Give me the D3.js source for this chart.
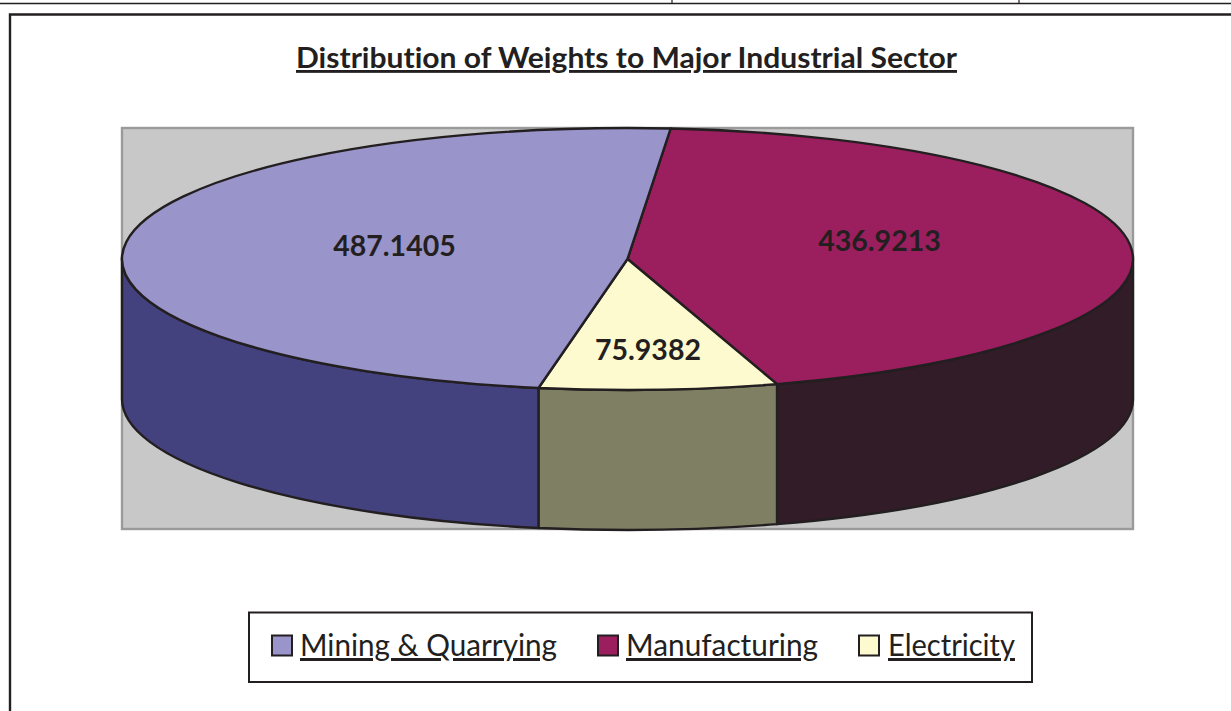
<!DOCTYPE html>
<html><head><meta charset="utf-8">
<script src="https://cdn.jsdelivr.net/npm/d3@7/dist/d3.min.js"></script>
<style>html,body{margin:0;padding:0;background:#fff;overflow:hidden}svg{display:block}
text{font-family:Lato,"Open Sans",sans-serif;fill:#231f20;font-variant-ligatures:none;font-feature-settings:"liga" 0,"kern" 1}
.u{text-decoration:underline;text-decoration-thickness:3px;text-decoration-skip-ink:none;text-underline-offset:3px}</style>
</head><body><svg id="c" width="1231" height="711"></svg>
<script>
const categories = ["Manufacturing","Electricity","Mining & Quarrying"];
const values = [436.9213,75.9382,487.1405];
const valueLabels = ["436.9213","75.9382","487.1405"];
const legendOrder = ["Mining & Quarrying","Manufacturing","Electricity"];
const topColors = ["#9b1f5e","#fefad0","#9994c9"];
const sideColors = ["#311c28","#7f7f63","#44417f"];
const titleText = "Distribution of Weights to Major Industrial Sector";

const ink = "#231f20";
const svg = d3.select("#c");
const cx = 627.5, cy = 259, rx = 505.5, ry = 131, depth = 140;
const start = 4.9 * Math.PI / 180;
const pie = d3.pie().sort(null).startAngle(start).endAngle(start + 2 * Math.PI);
const arcs = pie(values);
// slight perspective warp of the tilted disc: the front of the pie turns a little further
const warp = a => a + (0.62 * Math.PI / 180) * (1 - Math.cos(a)) / 2;
const px = a => cx + rx * Math.sin(warp(a));
const py = (a, d = 0) => cy - ry * Math.cos(warp(a)) + d;

// page furniture
svg.append("line").attr("x1",0).attr("x2",1231).attr("y1",3.5).attr("y2",3.5).attr("stroke",ink).attr("stroke-width",1.4);
[672,1019].forEach(x => svg.append("line").attr("x1",x).attr("x2",x).attr("y1",0).attr("y2",3.5).attr("stroke",ink).attr("stroke-width",1.2));
svg.append("path").attr("d","M10,711V14.5H1231").attr("fill","none").attr("stroke",ink).attr("stroke-width",2.4);

// title
svg.append("text").attr("class","u").attr("x",626.5).attr("y",68).attr("text-anchor","middle")
  .attr("font-size",28.5).attr("font-weight",700)
  .attr("textLength",661).attr("lengthAdjust","spacingAndGlyphs").text(titleText);

// plot area
svg.append("rect").attr("x",122).attr("y",128).attr("width",1011).attr("height",401)
  .attr("fill","#c8c8c8").attr("stroke","#9a9a9a").attr("stroke-width",2.4);

// side walls (only the front half of the disc is visible)
const lo = Math.PI / 2, hi = 3 * Math.PI / 2;
arcs.forEach((d,i) => {
  const a0 = Math.max(d.startAngle, lo), a1 = Math.min(d.endAngle, hi);
  if (a1 <= a0) return;
  const path = `M${px(a0)},${py(a0)}A${rx},${ry} 0 0 1 ${px(a1)},${py(a1)}L${px(a1)},${py(a1,depth)}A${rx},${ry} 0 0 0 ${px(a0)},${py(a0,depth)}Z`;
  svg.append("path").attr("d",path).attr("fill",sideColors[i]).attr("stroke",ink).attr("stroke-width",2.4).attr("stroke-linejoin","round");
});

// top faces
arcs.forEach((d,i) => {
  const large = d.endAngle - d.startAngle > Math.PI ? 1 : 0;
  const path = `M${cx},${cy}L${px(d.startAngle)},${py(d.startAngle)}A${rx},${ry} 0 ${large} 1 ${px(d.endAngle)},${py(d.endAngle)}Z`;
  svg.append("path").attr("d",path).attr("fill",topColors[i]).attr("stroke",ink).attr("stroke-width",2.4).attr("stroke-linejoin","round");
});

// value labels
const labelPos = [[879.5,251],[648,360],[394.5,256]];
valueLabels.forEach((t,i) => svg.append("text").attr("x",labelPos[i][0]).attr("y",labelPos[i][1])
  .attr("text-anchor","middle").attr("font-size",28.5).attr("font-weight",700).text(t));

// legend
svg.append("rect").attr("x",249).attr("y",612.5).attr("width",783).attr("height",69.5)
  .attr("fill","#fff").attr("stroke",ink).attr("stroke-width",2);
const legendX = [[271,300,257],[597,626,192],[858,888,127]];
legendOrder.forEach((name,i) => {
  const k = categories.indexOf(name), [sx,tx,w] = legendX[i];
  svg.append("rect").attr("x",sx+1).attr("y",635.5).attr("width",20).attr("height",20)
    .attr("fill",topColors[k]).attr("stroke",ink).attr("stroke-width",2);
  svg.append("text").attr("class","u").attr("x",tx).attr("y",656).attr("font-size",30)
    .attr("textLength",w).attr("lengthAdjust","spacingAndGlyphs").text(name);
});
</script></body></html>
